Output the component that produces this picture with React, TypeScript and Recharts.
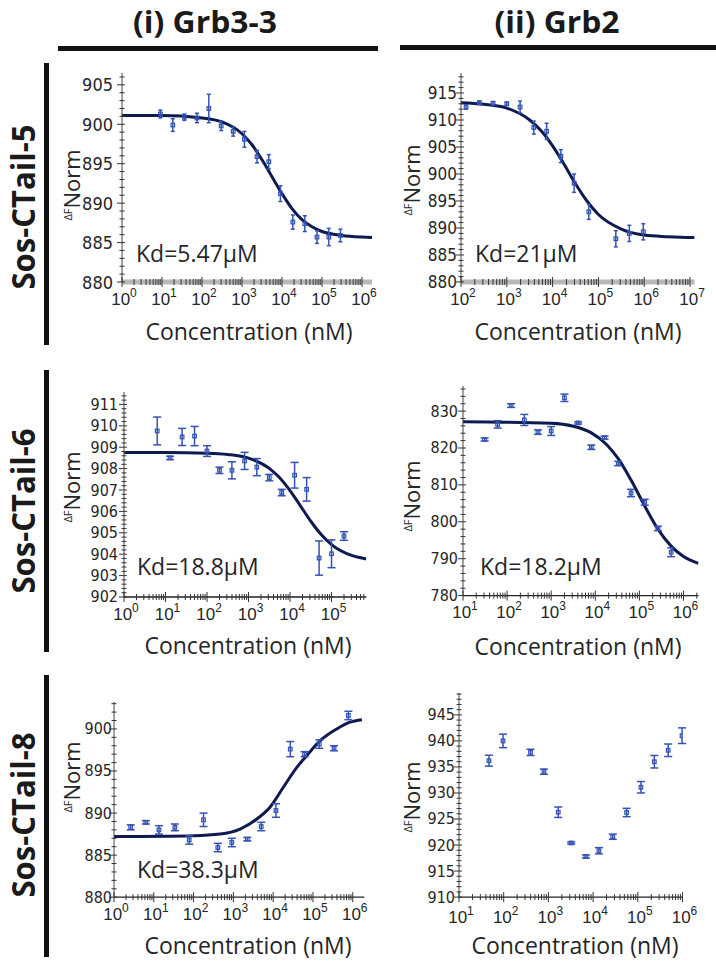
import React from 'react';
import { ComposedChart, Line, Scatter, XAxis, YAxis, ErrorBar } from 'recharts';

// ---------- Data (x values are log10 of concentration in nM) ----------
// Panel (i)-5 : Grb3-3 / Sos-CTail-5
const g33c5LogConc = [0.96, 1.27, 1.56, 1.875, 2.17, 2.48, 2.78, 3.06, 3.375, 3.67, 3.96, 4.27, 4.57, 4.875, 5.17, 5.46];
const g33c5Signal = [901.3, 899.9, 900.9, 900.8, 902.0, 899.8, 899.1, 898.1, 895.9, 895.25, 891.2, 887.6, 887.4, 885.7, 885.7, 885.9];
const g33c5Err = [0.5, 0.8, 0.4, 0.6, 1.8, 0.6, 0.6, 1.0, 0.8, 0.9, 1.0, 0.9, 1.0, 0.8, 1.1, 0.8];
const g33c5FitLogConc = [0, 1, 2, 2.5, 3, 3.25, 3.5, 3.75, 4, 4.25, 4.5, 4.75, 5, 5.5, 6, 6.25];
const g33c5FitSignal = [901.1, 901.1, 900.8, 900.3, 898.8, 897.4, 895.5, 893.35, 891.2, 889.3, 887.9, 887.0, 886.4, 885.9, 885.7, 885.65];

// Panel (ii)-5 : Grb2 / Sos-CTail-5
const g2c5LogConc = [2.11, 2.4, 2.7, 3.0, 3.29, 3.59, 3.87, 4.18, 4.47, 4.79, 5.38, 5.675, 5.98];
const g2c5Signal = [912.4, 913.2, 913.1, 913.0, 912.4, 908.6, 907.9, 903.3, 898.3, 893.0, 888.0, 889.0, 889.3];
const g2c5Err = [0.4, 0.3, 0.3, 0.3, 1.1, 1.2, 1.5, 1.2, 1.7, 1.4, 1.5, 1.5, 1.5];
const g2c5FitLogConc = [2, 2.5, 3, 3.5, 3.75, 4, 4.25, 4.5, 4.75, 5, 5.5, 6, 6.5, 7, 7.1];
const g2c5FitSignal = [913.2, 912.9, 912.2, 910.0, 908.0, 905.2, 901.8, 898.2, 895.0, 892.5, 889.8, 888.7, 888.4, 888.25, 888.25];

// Panel (i)-6 : Grb3-3 / Sos-CTail-6
const g33c6LogConc = [0.8, 1.11, 1.4, 1.7, 2.0, 2.3, 2.6, 2.905, 3.2, 3.5, 3.8, 4.11, 4.4, 4.7, 5.0, 5.3];
const g33c6Signal = [909.76, 908.5, 909.48, 909.52, 908.82, 907.92, 907.92, 908.36, 908.07, 907.58, 906.88, 907.69, 907.03, 903.82, 904.02, 904.85];
const g33c6Err = [0.65, 0.08, 0.4, 0.45, 0.25, 0.15, 0.4, 0.4, 0.4, 0.15, 0.15, 0.6, 0.55, 0.8, 0.65, 0.2];
const g33c6FitLogConc = [0, 1, 2, 2.5, 3, 3.5, 3.75, 4, 4.25, 4.5, 4.75, 5, 5.5, 5.84];
const g33c6FitSignal = [908.75, 908.75, 908.72, 908.66, 908.49, 908.01, 907.57, 906.97, 906.26, 905.54, 904.92, 904.45, 903.93, 903.78];

// Panel (ii)-6 : Grb2 / Sos-CTail-6
const g2c6LogConc = [1.49, 1.785, 2.09, 2.39, 2.7, 3.0, 3.3, 3.61, 3.91, 4.21, 4.52, 4.81, 5.12, 5.42, 5.72];
const g2c6Signal = [822.3, 826.4, 831.5, 827.6, 824.3, 824.6, 833.6, 826.8, 820.2, 822.8, 815.8, 807.8, 805.3, 798.2, 791.75];
const g2c6Err = [0.4, 1.0, 0.5, 1.5, 0.6, 1.2, 1.0, 0.3, 0.6, 0.4, 0.6, 1.0, 0.8, 0.6, 1.2];
const g2c6FitLogConc = [1, 3, 3.5, 3.91, 4.26, 4.52, 4.81, 5.12, 5.42, 5.72, 6.0, 6.34];
const g2c6FitSignal = [827.1, 826.7, 825.9, 824.1, 820.9, 817.1, 811.3, 804.3, 798.0, 793.4, 790.6, 788.75];

// Panel (i)-8 : Grb3-3 / Sos-CTail-8
const g33c8LogConc = [0.42, 0.8, 1.13, 1.53, 1.89, 2.25, 2.61, 2.96, 3.35, 3.7, 4.07, 4.43, 4.79, 5.16, 5.53, 5.89];
const g33c8Signal = [888.3, 888.9, 888.0, 888.3, 886.8, 889.2, 885.9, 886.5, 886.9, 888.4, 890.3, 897.6, 897.0, 898.2, 897.7, 901.6];
const g33c8Err = [0.3, 0.2, 0.5, 0.4, 0.5, 0.8, 0.5, 0.5, 0.2, 0.5, 0.8, 0.9, 0.3, 0.5, 0.3, 0.5];
const g33c8FitLogConc = [0, 2.0, 2.67, 3.17, 3.59, 3.92, 4.26, 4.59, 4.84, 5.18, 5.6, 5.93, 6.23];
const g33c8FitSignal = [887.2, 887.3, 887.5, 888.1, 889.3, 890.7, 893.1, 895.4, 896.8, 898.6, 900.0, 900.8, 901.1];

// Panel (ii)-8 : Grb2 / Sos-CTail-8 (no fit)
const g2c8LogConc = [1.67, 1.985, 2.6, 2.9, 3.22, 3.51, 3.84, 4.13, 4.44, 4.75, 5.07, 5.37, 5.68, 5.99];
const g2c8Signal = [936.2, 940.0, 937.8, 934.1, 926.3, 920.4, 917.8, 918.9, 921.6, 926.25, 931.1, 936.0, 938.2, 941.0];
const g2c8Err = [1.05, 1.3, 0.6, 0.5, 1.0, 0.2, 0.3, 0.6, 0.5, 0.8, 1.1, 1.2, 1.2, 1.5];

// Text
const columnTitles = ['(i) Grb3-3', '(ii) Grb2'];
const rowTitles = ['Sos-CTail-5', 'Sos-CTail-6', 'Sos-CTail-8'];
const kdLabels = ['Kd=5.47\u00b5M', 'Kd=21\u00b5M', 'Kd=18.8\u00b5M', 'Kd=18.2\u00b5M', 'Kd=38.3\u00b5M'];
const xAxisTitle = 'Concentration (nM)';

// ---------- Styling ----------
const NAVY = '#0f1a50';
const BLUE = '#3453b2';
const TXT = '#262626';
const MAIN_FONT = '"Open Sans", "DejaVu Sans", sans-serif';
const NARROW_FONT = '"Liberation Sans Narrow", "DejaVu Sans Condensed", sans-serif';
const TICK_FONT = '"Liberation Sans", Arial, sans-serif';

const zipPts = (xs: number[], ys: number[], es?: number[]) =>
  xs.map((x, i) => (es ? { x, y: ys[i], e: es[i] } : { x, y: ys[i] }));

function logTicks(d0: number, d1: number) {
  const out: number[] = [];
  for (let n = Math.floor(d0); n <= Math.ceil(d1); n++) {
    for (let k = 1; k <= 9; k++) {
      const v = n + Math.log10(k);
      if (v >= d0 - 1e-9 && v <= d1 + 1e-9) out.push(v);
    }
  }
  return out;
}
function linTicks(a: number, b: number, step: number) {
  const out: number[] = [];
  for (let i = 0; ; i++) {
    const v = +(a + i * step).toFixed(4);
    if (v > b + 1e-9) break;
    out.push(v);
  }
  return out;
}

type Cfg = {
  x0: number; x1: number; yTop: number; yBot: number;
  xDomain: [number, number]; yDomain: [number, number];
  yMajor: number; yMinor: number;
  yGap: number; yFont: number; xLabelDy: number;
  grayAxis: boolean;
  points: any[]; fit?: any[];
  errW: number;
};

function Panel({ cfg }: { cfg: Cfg }) {
  const YW = 60, XH = 40, MT = 10, MR = 15;
  const left = cfg.x0 - YW;
  const top = cfg.yTop - MT;
  const w = cfg.x1 - cfg.x0 + YW + MR;
  const h = cfg.yBot - cfg.yTop + MT + XH;
  const xt = logTicks(cfg.xDomain[0], cfg.xDomain[1]);
  const yt = linTicks(cfg.yDomain[0], cfg.yDomain[1], cfg.yMinor);

  const xTick = (p: any) => {
    const { x, y, payload } = p;
    const v = payload.value;
    const major = Math.abs(v - Math.round(v)) < 1e-6;
    const len = major ? 5 : 3;
    return (
      <g>
        <line x1={x} x2={x} y1={y - len} y2={y + len} stroke="#333" strokeWidth={1} />
        {major && (
          <text x={x + 2} y={y + cfg.xLabelDy} textAnchor="middle" fontFamily={TICK_FONT} fontSize={17} fill={TXT}>
            10
            <tspan dy={-8} fontSize={12}>{Math.round(v)}</tspan>
          </text>
        )}
      </g>
    );
  };
  const yTick = (p: any) => {
    const { x, y, payload } = p;
    const v = payload.value;
    const r = v / cfg.yMajor;
    const major = Math.abs(r - Math.round(r)) < 1e-6;
    return (
      <g>
        <line x1={major ? x - 5 : x - 2.5} x2={major ? x + 3 : x + 2.5} y1={y} y2={y} stroke="#333" strokeWidth={1} />
        {major && (
          <text x={x - cfg.yGap} y={y} textAnchor="end" dominantBaseline="central" fontFamily={NARROW_FONT} fontSize={cfg.yFont} fill={TXT}>
            {Math.round(v)}
          </text>
        )}
      </g>
    );
  };
  const shape = (p: any) => (
    <rect x={p.cx - 1.8} y={p.cy - 1.8} width={3.6} height={3.6} fill="none" stroke={BLUE} strokeWidth={1.2} />
  );

  return (
    <div style={{ position: 'absolute', left, top, width: w, height: h }}>
      <ComposedChart width={w} height={h} margin={{ top: MT, right: MR, bottom: 0, left: 0 }} style={{ overflow: 'visible' }}>
        <XAxis
          type="number"
          dataKey="x"
          domain={cfg.xDomain}
          allowDataOverflow
          ticks={xt}
          interval={0}
          tickSize={0}
          tickMargin={0}
          height={XH}
          tick={xTick}
          axisLine={cfg.grayAxis ? { stroke: '#b8b8b8', strokeWidth: 5 } : { stroke: '#222', strokeWidth: 1.3 }}
        />
        <YAxis
          type="number"
          domain={cfg.yDomain}
          allowDataOverflow
          ticks={yt}
          interval={0}
          tickSize={0}
          tickMargin={0}
          width={YW}
          tick={yTick}
          axisLine={{ stroke: '#444', strokeWidth: 1 }}
        />
        {cfg.fit && (
          <Line data={cfg.fit} dataKey="y" type="monotone" stroke={NAVY} strokeWidth={3} dot={false} isAnimationActive={false} />
        )}
        <Scatter data={cfg.points} dataKey="y" shape={shape} isAnimationActive={false}>
          <ErrorBar dataKey="e" direction="y" width={cfg.errW} stroke={BLUE} strokeWidth={1.5} />
        </Scatter>
      </ComposedChart>
    </div>
  );
}

const panels: Cfg[] = [
  {
    x0: 122, x1: 372, yTop: 73, yBot: 282, xDomain: [0, 6.25], yDomain: [880, 906.5],
    yMajor: 5, yMinor: 1, yGap: 9, yFont: 18, xLabelDy: 23, grayAxis: true, errW: 2,
    points: zipPts(g33c5LogConc, g33c5Signal, g33c5Err), fit: zipPts(g33c5FitLogConc, g33c5FitSignal),
  },
  {
    x0: 461, x1: 694.6, yTop: 73, yBot: 282, xDomain: [2, 7.1], yDomain: [880, 918.7],
    yMajor: 5, yMinor: 1, yGap: 4, yFont: 17, xLabelDy: 23, grayAxis: true, errW: 2,
    points: zipPts(g2c5LogConc, g2c5Signal, g2c5Err), fit: zipPts(g2c5FitLogConc, g2c5FitSignal),
  },
  {
    x0: 124, x1: 366.4, yTop: 391.7, yBot: 596.7, xDomain: [0, 5.84], yDomain: [902, 911.58],
    yMajor: 1, yMinor: 0.2, yGap: 6, yFont: 16, xLabelDy: 23, grayAxis: false, errW: 4,
    points: zipPts(g33c6LogConc, g33c6Signal, g33c6Err), fit: zipPts(g33c6FitLogConc, g33c6FitSignal),
  },
  {
    x0: 462.7, x1: 698.2, yTop: 386.4, yBot: 596, xDomain: [1, 6.34], yDomain: [780, 836.8],
    yMajor: 10, yMinor: 2, yGap: 5, yFont: 16, xLabelDy: 22, grayAxis: false, errW: 4,
    points: zipPts(g2c6LogConc, g2c6Signal, g2c6Err), fit: zipPts(g2c6FitLogConc, g2c6FitSignal),
  },
  {
    x0: 114, x1: 364.3, yTop: 701.5, yBot: 896.7, xDomain: [0, 6.29], yDomain: [880, 903.2],
    yMajor: 5, yMinor: 1, yGap: 2, yFont: 16, xLabelDy: 23, grayAxis: false, errW: 4,
    points: zipPts(g33c8LogConc, g33c8Signal, g33c8Err), fit: zipPts(g33c8FitLogConc, g33c8FitSignal),
  },
  {
    x0: 459.3, x1: 682.8, yTop: 693.2, yBot: 897.3, xDomain: [1, 6.0], yDomain: [910, 949.2],
    yMajor: 5, yMinor: 1, yGap: 4, yFont: 16, xLabelDy: 26, grayAxis: false, errW: 4,
    points: zipPts(g2c8LogConc, g2c8Signal, g2c8Err),
  },
];

// annotation anchors
const yTitlePos = [
  [80, 185], [420, 180], [80, 487], [420, 496], [80, 777], [420, 797],
];
const xTitlePos = [
  [249, 340], [578, 340], [248, 654], [578, 655], [248, 954], [575, 954],
];
const kdPos = [
  [136, 262], [475, 262], [137, 575], [480, 575], [137, 878],
];
const rowCenters = [207, 511, 815];
const rowBars = [[63, 282], [370, 282], [675, 282]];

export default function App() {
  return (
    <div style={{ position: 'absolute', left: 0, top: 0, width: 716, height: 963, background: '#fff', overflow: 'hidden' }}>
      {panels.map((c, i) => (
        <Panel key={i} cfg={c} />
      ))}
      <svg width={716} height={963} style={{ position: 'absolute', left: 0, top: 0, pointerEvents: 'none' }}>
        {/* column headers */}
        <text x={205} y={33} textAnchor="middle" fontFamily={MAIN_FONT} fontWeight={700} fontSize={31} fill="#1a1a1a" textLength={144} lengthAdjust="spacingAndGlyphs">{columnTitles[0]}</text>
        <rect x={58} y={46} width={320} height={5} fill="#111" />
        <text x={557} y={33} textAnchor="middle" fontFamily={MAIN_FONT} fontWeight={700} fontSize={31} fill="#1a1a1a" textLength={125} lengthAdjust="spacingAndGlyphs">{columnTitles[1]}</text>
        <rect x={400} y={45} width={316} height={5} fill="#111" />
        {/* row labels */}
        {rowTitles.map((t, i) => (
          <g key={t}>
            <text transform={`translate(35,${rowCenters[i]}) rotate(-90)`} textAnchor="middle" fontFamily={MAIN_FONT} fontWeight={700} fontSize={33} fill="#1a1a1a" textLength={165} lengthAdjust="spacingAndGlyphs">{t}</text>
            <rect x={44} y={rowBars[i][0]} width={5} height={rowBars[i][1]} fill="#111" />
          </g>
        ))}
        {/* y axis titles */}
        {yTitlePos.map(([x, y], i) => (
          <text key={'yt' + i} transform={`translate(${x},${y}) rotate(-90)`} textAnchor="middle" fontFamily={MAIN_FONT} fill={TXT}>
            <tspan fontSize={11} dy={-8}>{'\u0394F'}</tspan>
            <tspan fontSize={22} dy={8}>Norm</tspan>
          </text>
        ))}
        {/* x axis titles */}
        {xTitlePos.map(([x, y], i) => (
          <text key={'xt' + i} x={x} y={y} textAnchor="middle" fontFamily={MAIN_FONT} fontSize={23} fill={TXT}>{xAxisTitle}</text>
        ))}
        {/* Kd labels */}
        {kdPos.map(([x, y], i) => (
          <text key={'kd' + i} x={x} y={y} fontFamily={MAIN_FONT} fontSize={23} fill={TXT}>{kdLabels[i]}</text>
        ))}
      </svg>
    </div>
  );
}
